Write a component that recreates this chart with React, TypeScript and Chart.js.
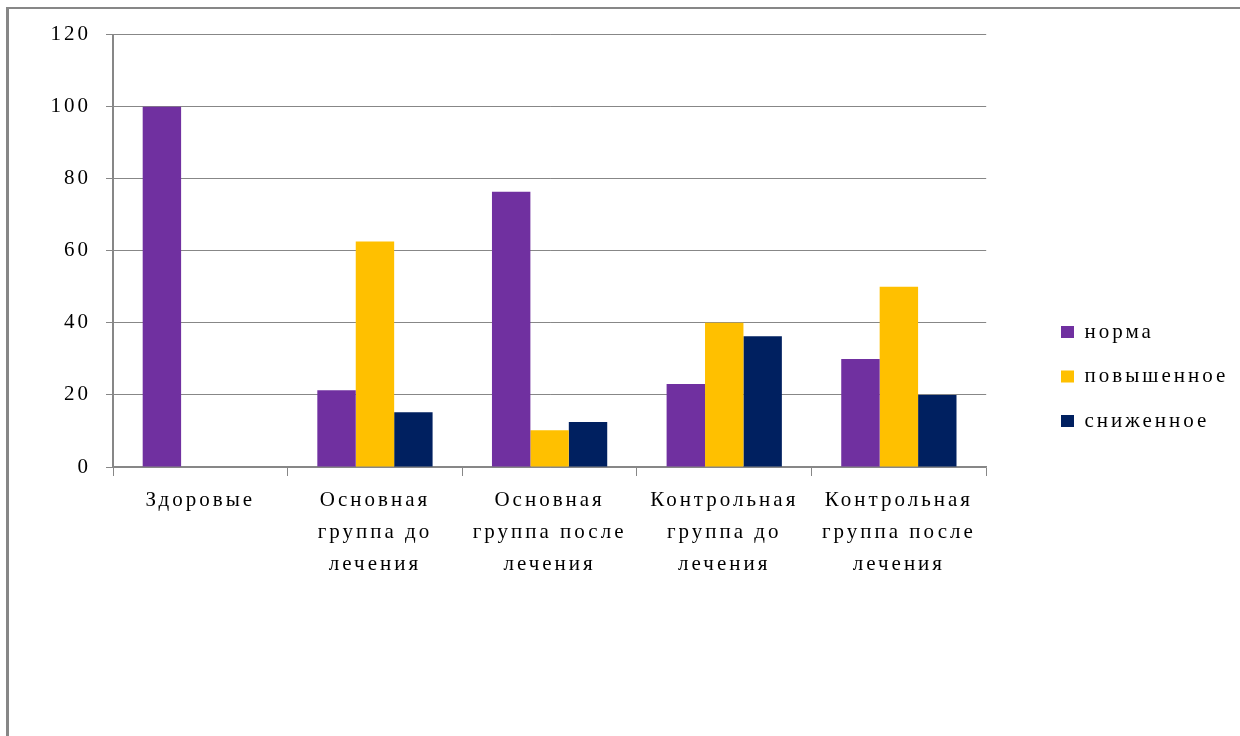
import React, { useEffect, useRef } from "react";
import { Chart, registerables } from "chart.js";

Chart.register(...registerables);

const categories: string[][] = [
  ["Здоровые"],
  ["Основная", "группа до", "лечения"],
  ["Основная", "группа после", "лечения"],
  ["Контрольная", "группа до", "лечения"],
  ["Контрольная", "группа после", "лечения"],
];
const seriesNames = ["норма", "повышенное", "сниженное"];
const normaValues = [100, 21.3, 76.4, 23, 30];
const povyshValues = [0, 62.6, 10.2, 40, 50];
const snizhValues = [0, 15.2, 12.5, 36.3, 20];
const seriesColors = ["#7030A0", "#FFC000", "#002060"];
const yMin = 0;
const yMax = 120;
const yStep = 20;

const FONT = "'Liberation Serif', 'Times New Roman', serif";
const GRAY = "#878787";

const spacingPlugin = {
  id: "letterSpacingPlugin",
  beforeUpdate(chart: any) {
    chart.ctx.letterSpacing = "3px";
  },
  beforeLayout(chart: any) {
    chart.ctx.letterSpacing = "3px";
  },
  beforeDraw(chart: any) {
    chart.ctx.letterSpacing = "3px";
  },
};

const legendPlacePlugin = {
  id: "legendPlace",
  afterLayout(chart: any) {
    const lg = chart.legend;
    if (!lg) return;
    const w = lg.width;
    const h = lg.height;
    const pad = lg.options.labels.padding;
    lg.left = 1052 - pad;
    lg.right = lg.left + w;
    lg.top = lg.top - 10;
    lg.bottom = lg.top + h;
  },
};

export default function App() {
  const ref = useRef<HTMLCanvasElement | null>(null);

  useEffect(() => {
    if (!ref.current) return;
    const data = [normaValues, povyshValues, snizhValues];
    const chart = new Chart(ref.current, {
      type: "bar",
      data: {
        labels: categories,
        datasets: seriesNames.map((name, i) => ({
          label: name,
          data: data[i],
          backgroundColor: seriesColors[i],
          borderWidth: 0,
          barPercentage: 1,
          categoryPercentage: 0.66,
        })),
      },
      options: {
        responsive: false,
        animation: false,
        devicePixelRatio: 1,
        layout: { padding: { top: 23, right: 53, bottom: 0, left: 0 } },
        plugins: {
          tooltip: { enabled: false },
          legend: {
            display: true,
            position: "right",
            align: "center",
            labels: {
              boxWidth: 13,
              boxHeight: 12,
              padding: 23.5,
              color: "#000",
              font: { family: FONT, size: 21 },
            },
          },
        },
        scales: {
          x: {
            grid: {
              display: true,
              offset: true,
              drawOnChartArea: false,
              drawTicks: true,
              tickLength: 9,
              color: GRAY,
              lineWidth: 1,
            },
            border: { display: true, color: GRAY, width: 1.5 },
            ticks: {
              color: "#000",
              padding: 9,
              maxRotation: 0,
              autoSkip: false,
              font: { family: FONT, size: 21, lineHeight: 1.52 },
            },
            afterFit(scale: any) {
              scale.height = 276;
            },
          },
          y: {
            min: yMin,
            max: yMax,
            ticks: {
              stepSize: yStep,
              color: "#000",
              padding: 15,
              font: { family: FONT, size: 21 },
            },
            grid: {
              color: GRAY,
              lineWidth: 1,
              drawTicks: true,
              tickLength: 7,
            },
            border: { display: true, color: GRAY, width: 2 },
            afterFit(scale: any) {
              scale.width = 104;
            },
          },
        },
      },
      plugins: [spacingPlugin, legendPlacePlugin],
    });
    return () => chart.destroy();
  }, []);

  return (
    <div>
      <div
        style={{
          position: "fixed",
          left: 6,
          top: 7,
          width: 1400,
          height: 900,
          borderLeft: "3px solid " + GRAY,
          borderTop: "2px solid " + GRAY,
          background: "#fff",
        }}
      />
      <canvas
        ref={ref}
        width={1231}
        height={736}
        style={{ position: "fixed", left: 9, top: 7, width: 1231, height: 736 }}
      />
    </div>
  );
}
